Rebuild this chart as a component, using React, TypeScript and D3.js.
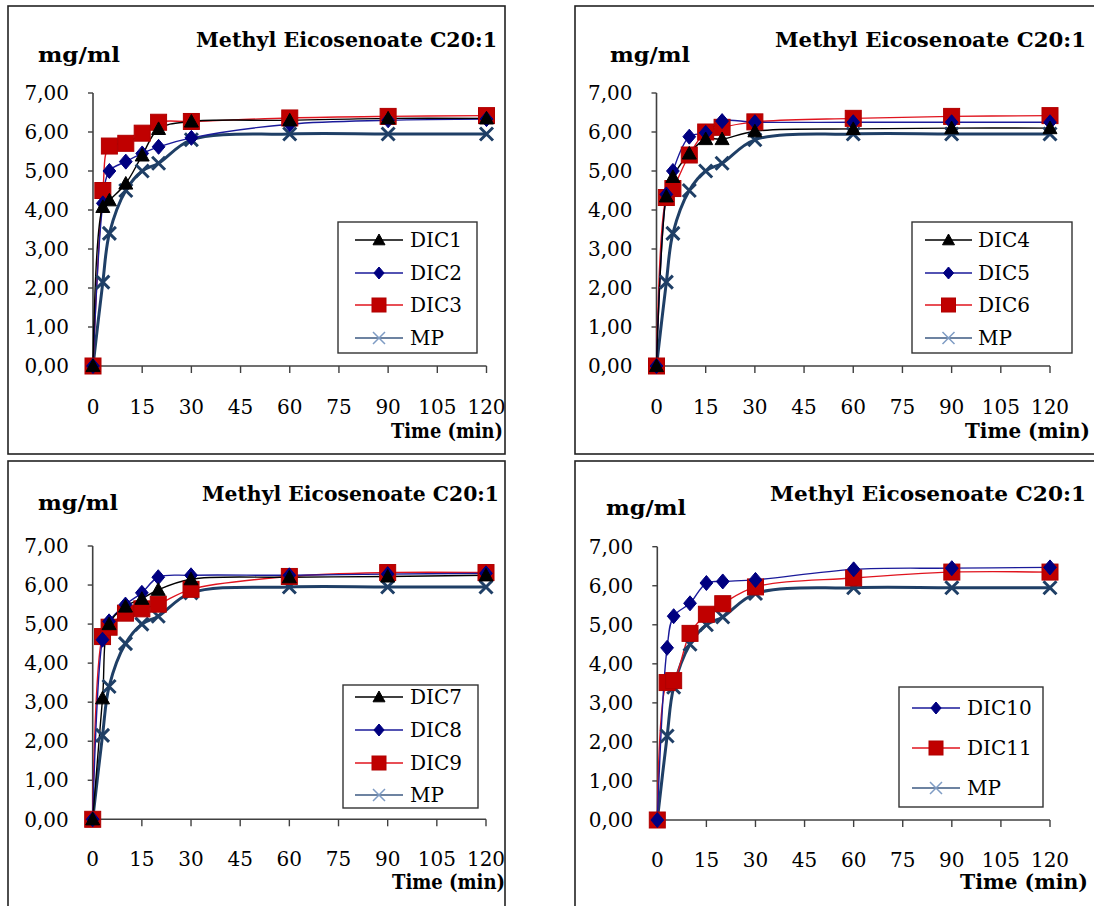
import React from "react";
import * as d3 from "d3";

const TIMES = [0, 3, 5, 10, 15, 20, 30, 60, 90, 120];
const X_TICKS = [0, 15, 30, 45, 60, 75, 90, 105, 120];
const Y_TICKS = [0, 1, 2, 3, 4, 5, 6, 7];
const TITLE = "Methyl Eicosenoate C20:1";
const Y_LABEL = "mg/ml";
const X_LABEL = "Time (min)";

const MP = [0, 2.15, 3.4, 4.5, 5.0, 5.2, 5.8, 5.95, 5.95, 5.95];
const DIC1 = [0, 4.08, 4.25, 4.68, 5.4, 6.08, 6.27, 6.3, 6.35, 6.35];
const DIC2 = [0, 4.17, 5.0, 5.24, 5.45, 5.62, 5.85, 6.2, 6.3, 6.33];
const DIC3 = [0, 4.5, 5.64, 5.71, 5.97, 6.25, 6.27, 6.36, 6.4, 6.42];
const DIC4 = [0, 4.35, 4.85, 5.45, 5.82, 5.82, 6.02, 6.08, 6.1, 6.1];
const DIC5 = [0, 4.4, 5.0, 5.88, 5.98, 6.28, 6.25, 6.25, 6.25, 6.25];
const DIC6 = [0, 4.32, 4.55, 5.41, 6.0, 6.12, 6.26, 6.35, 6.4, 6.42];
const DIC7 = [0, 3.1, 5.0, 5.45, 5.65, 5.88, 6.15, 6.2, 6.22, 6.25];
const DIC8 = [0, 4.6, 5.07, 5.5, 5.8, 6.2, 6.25, 6.25, 6.28, 6.3];
const DIC9 = [0, 4.68, 4.92, 5.28, 5.39, 5.51, 5.89, 6.22, 6.32, 6.32];
const DIC10 = [0, 4.41, 5.22, 5.55, 6.07, 6.11, 6.15, 6.42, 6.45, 6.47];
const DIC11 = [0, 3.52, 3.57, 4.78, 5.27, 5.54, 5.97, 6.2, 6.35, 6.35];

type Kind = "tri" | "dia" | "sq" | "x";
type Series = { name: string; values: number[]; kind: Kind };

const STYLE: Record<Kind, { line: string; lw: number; fill: string; stroke: string }> = {
  tri: { line: "#000000", lw: 1.4, fill: "#000000", stroke: "#000000" },
  dia: { line: "#1a1a9a", lw: 1.4, fill: "#000080", stroke: "#000080" },
  sq: { line: "#e0141e", lw: 1.4, fill: "#c00000", stroke: "#b00000" },
  x: { line: "#1f3f66", lw: 3, fill: "none", stroke: "#1f3f66" },
};

const PANELS = [
  {
    frame: [8, 6, 497, 448],
    x0: 93, x1: 486.5, y0: 366, y1: 93,
    title: [196, 47, 301], ylab: [38, 62, 82], xlabBase: 414, tlab: [391, 438, 112],
    legend: { x: 338, y: 222, w: 139, h: 131, items: [240, 273, 305, 338], lx0: 355, lx1: 403, tx: 410 },
    series: [
      { name: "DIC1", values: DIC1, kind: "tri" },
      { name: "DIC2", values: DIC2, kind: "dia" },
      { name: "DIC3", values: DIC3, kind: "sq" },
      { name: "MP", values: MP, kind: "x" },
    ] as Series[],
  },
  {
    frame: [575, 6, 540, 448],
    x0: 656.5, x1: 1050, y0: 366, y1: 93,
    title: [775, 47, 311], ylab: [610, 62, 80], xlabBase: 414, tlab: [965, 438, 125],
    legend: { x: 912, y: 222, w: 160, h: 131, items: [240, 273, 305, 338], lx0: 925, lx1: 972, tx: 978 },
    series: [
      { name: "DIC4", values: DIC4, kind: "tri" },
      { name: "DIC5", values: DIC5, kind: "dia" },
      { name: "DIC6", values: DIC6, kind: "sq" },
      { name: "MP", values: MP, kind: "x" },
    ] as Series[],
  },
  {
    frame: [8, 461, 497, 460],
    x0: 92.7, x1: 486, y0: 819.3, y1: 546,
    title: [202, 501, 297], ylab: [38, 510, 80], xlabBase: 866, tlab: [392, 889, 113],
    legend: { x: 343, y: 685, w: 135, h: 123, items: [697, 730, 763, 795], lx0: 355, lx1: 403, tx: 410 },
    series: [
      { name: "DIC7", values: DIC7, kind: "tri" },
      { name: "DIC8", values: DIC8, kind: "dia" },
      { name: "DIC9", values: DIC9, kind: "sq" },
      { name: "MP", values: MP, kind: "x" },
    ] as Series[],
  },
  {
    frame: [575, 461, 540, 460],
    x0: 657.3, x1: 1050, y0: 820, y1: 546.7,
    title: [770, 501, 316], ylab: [606, 515, 80], xlabBase: 867, tlab: [960, 889, 128],
    legend: { x: 899, y: 687, w: 144, h: 120, items: [708, 748, 788], lx0: 912, lx1: 960, tx: 967 },
    series: [
      { name: "DIC10", values: DIC10, kind: "dia" },
      { name: "DIC11", values: DIC11, kind: "sq" },
      { name: "MP", values: MP, kind: "x" },
    ] as Series[],
  },
];

const FONT = "'DejaVu Serif', serif";

function Marker({ kind, x, y, legend }: { kind: Kind; x: number; y: number; legend?: boolean }) {
  const st = STYLE[kind];
  if (kind === "tri") {
    const s = legend ? 6 : 7;
    return <path d={`M${x},${y - s}L${x + s},${y + s * 0.8}L${x - s},${y + s * 0.8}Z`} fill={st.fill} stroke={st.stroke} strokeWidth={1} />;
  }
  if (kind === "dia") {
    const s = legend ? 6 : 7.5;
    return <path d={`M${x},${y - s}L${x + s * 0.85},${y}L${x},${y + s}L${x - s * 0.85},${y}Z`} fill={st.fill} stroke={st.stroke} strokeWidth={1} />;
  }
  if (kind === "sq") {
    const s = legend ? 7 : 8;
    return <rect x={x - s} y={y - s} width={2 * s} height={2 * s} fill={st.fill} stroke={st.stroke} strokeWidth={1} />;
  }
  const s = legend ? 6 : 6.5;
  return (
    <path
      d={`M${x - s},${y - s}L${x + s},${y + s}M${x - s},${y + s}L${x + s},${y - s}`}
      stroke={legend ? "#7f9cc4" : st.stroke}
      strokeWidth={legend ? 1.5 : 3}
      fill="none"
    />
  );
}

function Panel({ p }: { p: (typeof PANELS)[number] }) {
  const xs = d3.scaleLinear().domain([0, 120]).range([p.x0, p.x1]);
  const ys = d3.scaleLinear().domain([0, 7]).range([p.y0, p.y1]);
  const line = d3
    .line<number>()
    .x((_, i) => xs(TIMES[i]))
    .y((v) => ys(v))
    .curve(d3.curveCatmullRom.alpha(0.5));
  const order = [...p.series].reverse();
  const [fx, fy, fw, fh] = p.frame;
  return (
    <g>
      <rect x={fx} y={fy} width={fw} height={fh} fill="#fff" stroke="#222" strokeWidth={1.6} />
      <text x={p.title[0]} y={p.title[1]} fontFamily={FONT} fontWeight="bold" fontSize={21} textLength={p.title[2]} lengthAdjust="spacingAndGlyphs">{TITLE}</text>
      <text x={p.ylab[0]} y={p.ylab[1]} fontFamily={FONT} fontWeight="bold" fontSize={21} textLength={p.ylab[2]} lengthAdjust="spacingAndGlyphs">{Y_LABEL}</text>
      <text x={p.tlab[0]} y={p.tlab[1]} fontFamily={FONT} fontWeight="bold" fontSize={20} textLength={p.tlab[2]} lengthAdjust="spacingAndGlyphs">{X_LABEL}</text>
      <line x1={p.x0} x2={p.x0} y1={ys(7)} y2={ys(0)} stroke="#404040" strokeWidth={1.6} />
      <line x1={p.x0} x2={xs(120)} y1={ys(0)} y2={ys(0)} stroke="#404040" strokeWidth={1.6} />
      {Y_TICKS.map((t) => (
        <g key={"y" + t}>
          <line x1={p.x0 - 5} x2={p.x0} y1={ys(t)} y2={ys(t)} stroke="#404040" strokeWidth={1.4} />
          <text x={p.x0 - 24} y={ys(t)} dy="0.36em" textAnchor="end" fontFamily={FONT} fontSize={20}>
            {t.toFixed(2).replace(".", ",")}
          </text>
        </g>
      ))}
      {X_TICKS.map((t) => (
        <g key={"x" + t}>
          <line x1={xs(t)} x2={xs(t)} y1={ys(0)} y2={ys(0) + 7} stroke="#404040" strokeWidth={1.4} />
          <text x={xs(t)} y={p.xlabBase} textAnchor="middle" fontFamily={FONT} fontSize={20}>
            {t}
          </text>
        </g>
      ))}
      {order.map((s) => (
        <path key={"l" + s.name} d={line(s.values) || ""} fill="none" stroke={STYLE[s.kind].line} strokeWidth={STYLE[s.kind].lw} />
      ))}
      {order.map((s) => (
        <g key={"m" + s.name}>
          {s.values.map((v, i) => (
            <Marker key={i} kind={s.kind} x={xs(TIMES[i])} y={ys(v)} />
          ))}
        </g>
      ))}
      <rect x={p.legend.x} y={p.legend.y} width={p.legend.w} height={p.legend.h} fill="#fff" stroke="#333" strokeWidth={1.4} />
      {p.series.map((s, i) => {
        const y = p.legend.items[i];
        const st = STYLE[s.kind];
        return (
          <g key={"lg" + s.name}>
            <line x1={p.legend.lx0} x2={p.legend.lx1} y1={y} y2={y} stroke={s.kind === "x" ? "#3c5a82" : st.line} strokeWidth={1.5} />
            <Marker kind={s.kind} x={(p.legend.lx0 + p.legend.lx1) / 2} y={y} legend />
            <text x={p.legend.tx} y={y} dy="0.36em" fontFamily={FONT} fontSize={20}>
              {s.name}
            </text>
          </g>
        );
      })}
    </g>
  );
}

export default function App() {
  return (
    <svg width={1094} height={906} style={{ position: "absolute", left: 0, top: 0, background: "#fff" }}>
      <rect x={0} y={0} width={1094} height={906} fill="#fff" />
      {PANELS.map((p, i) => (
        <Panel key={i} p={p} />
      ))}
    </svg>
  );
}
